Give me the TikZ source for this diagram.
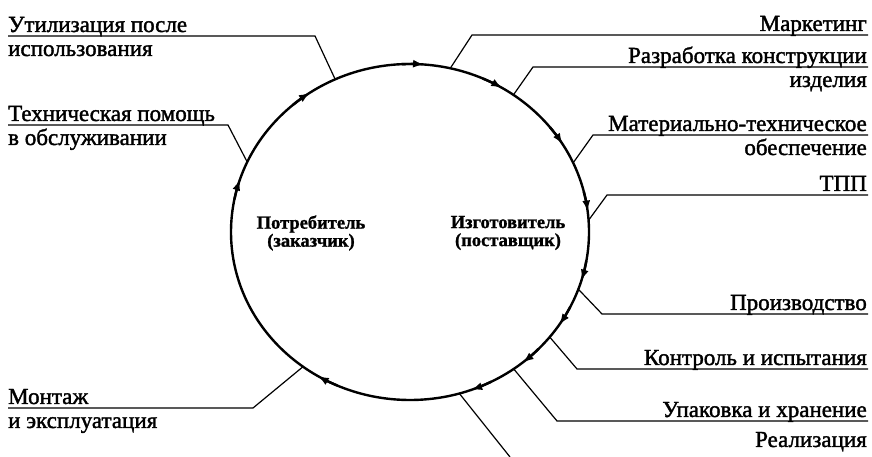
\documentclass[tikz,border=0pt]{standalone}
\usepackage{fontspec}
\setmainfont{Liberation Serif}[FakeBold=1.6]
\newfontfamily\centrefont{Liberation Serif}[FakeBold=1.2]
\usetikzlibrary{arrows.meta}
\begin{document}
\begin{tikzpicture}[x=1pt,y=1pt,
  ring/.style={line width=2.4pt},
  leader/.style={line width=1.2pt},
  lbl/.style={inner sep=0pt, font=\fontsize{23}{24}\selectfont},
  ctr/.style={align=center, inner sep=0pt, font=\centrefont\bfseries\fontsize{18.5}{18}\selectfont},
  tipline/.style={ring, -{Latex[length=11pt,width=8pt]}}]
\useasboundingbox (0,0) rectangle (872,457);

% the life cycle ring
\coordinate (O) at (410,225);
\draw[ring] (O) ellipse [x radius=179pt, y radius=168pt];
\foreach \t [evaluate=\t as \s using \t+7] in {124,85.5,59,31.5,7,-16.8,-33.5,-51,-70,-121,161.8}
  \draw[tipline] (O) ++(\s:179pt and 168pt)
    arc[start angle=\s, end angle=\t, x radius=179pt, y radius=168pt];

% centre captions
\node[ctr] (cons) at (311,224) {Потребитель\\(заказчик)};
\node[ctr] (prod) at (508,224) {Изготовитель\\(поставщик)};

% points on the ring where the leaders start
\path (O) ++(114.7:179pt and 168pt) coordinate (pUtil);
\path (O) ++(155.4:179pt and 168pt) coordinate (pTech);
\path (O) ++(77:179pt and 168pt) coordinate (pMark);
\path (O) ++(54.7:179pt and 168pt) coordinate (pDev);
\path (O) ++(24.3:179pt and 168pt) coordinate (pMat);
\path (O) ++(4:179pt and 168pt) coordinate (pTpp);
\path (O) ++(-19.9:179pt and 168pt) coordinate (pMfg);
\path (O) ++(-38.7:179pt and 168pt) coordinate (pTest);
\path (O) ++(-54.6:179pt and 168pt) coordinate (pPack);
\path (O) ++(-74:179pt and 168pt) coordinate (pSale);
\path (O) ++(-126.7:179pt and 168pt) coordinate (pMont);

% left side stages
\draw[leader] (pUtil) -- (315,421) coordinate (kUtil) -- (8,421) coordinate (eUtil);
\node[lbl, anchor=base west] (tUtil1) at (8,425) {Утилизация после};
\node[lbl, anchor=base west] (tUtil2) at (8,401) {использования};

\draw[leader] (pTech) -- (228,332) coordinate (kTech) -- (8,332) coordinate (eTech);
\node[lbl, anchor=base west] (tTech1) at (8,336) {Техническая помощь};
\node[lbl, anchor=base west] (tTech2) at (8,312) {в обслуживании};

\draw[leader] (pMont) -- (253,49) coordinate (kMont) -- (8,49) coordinate (eMont);
\node[lbl, anchor=base west] (tMont1) at (8,53) {Монтаж};
\node[lbl, anchor=base west] (tMont2) at (8,29) {и эксплуатация};

% right side stages
\draw[leader] (pMark) -- (472,422) coordinate (kMark) -- (868,422) coordinate (eMark);
\node[lbl, anchor=base east] (tMark) at (867,426) {Маркетинг};

\draw[leader] (pDev) -- (533,390) coordinate (kDev) -- (868,390) coordinate (eDev);
\node[lbl, anchor=base east] (tDev1) at (867,394) {Разработка конструкции};
\node[lbl, anchor=base east] (tDev2) at (867,370) {изделия};

\draw[leader] (pMat) -- (593,322) coordinate (kMat) -- (868,322) coordinate (eMat);
\node[lbl, anchor=base east] (tMat1) at (867,326) {Материально-техническое};
\node[lbl, anchor=base east] (tMat2) at (867,302) {обеспечение};

\draw[leader] (pTpp) -- (607,262) coordinate (kTpp) -- (868,262) coordinate (eTpp);
\node[lbl, anchor=base east] (tTpp) at (867,266) {ТПП};

\draw[leader] (pMfg) -- (602,143) coordinate (kMfg) -- (868,143) coordinate (eMfg);
\node[lbl, anchor=base east] (tMfg) at (867,147) {Производство};

\draw[leader] (pTest) -- (577,88) coordinate (kTest) -- (868,88) coordinate (eTest);
\node[lbl, anchor=base east] (tTest) at (867,92) {Контроль и испытания};

\draw[leader] (pPack) -- (557,36) coordinate (kPack) -- (868,36) coordinate (ePack);
\node[lbl, anchor=base east] (tPack) at (867,40) {Упаковка и хранение};

\coordinate (eSale) at (510,0);
\draw[leader] (pSale) -- (eSale);
\node[lbl, anchor=base east] (tSale) at (867,10) {Реализация};
\end{tikzpicture}
\end{document}
